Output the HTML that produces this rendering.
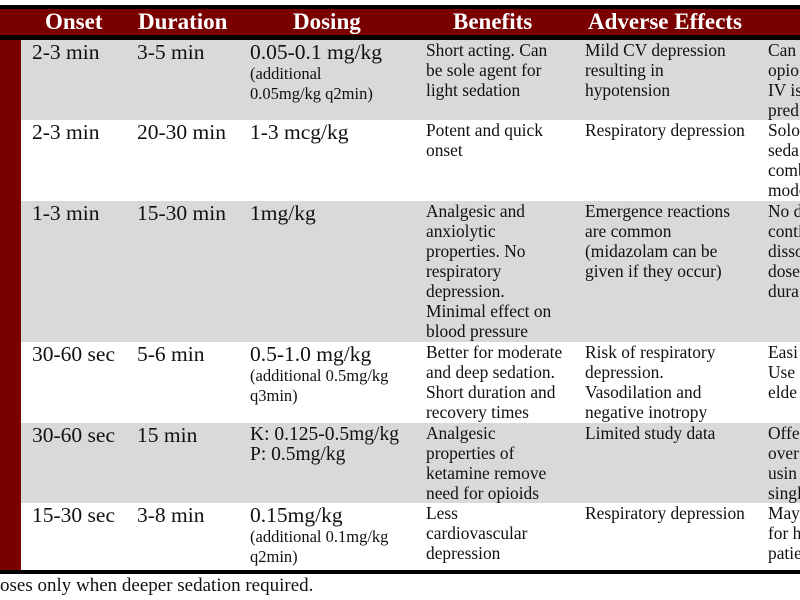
<!DOCTYPE html>
<html><head><style>
body{margin:0;width:800px;height:600px;background:#fff;position:relative;overflow:hidden;font-family:"Liberation Serif",serif;color:#111}
div{position:absolute}
.h{color:#fff;font-weight:bold;font-size:23px;top:9px;line-height:26px}
.t{font-size:21.5px;line-height:20px;white-space:nowrap}
.s{font-size:17.4px;line-height:20px;white-space:nowrap}
.n{font-size:16.5px;line-height:20px;white-space:nowrap}
</style></head><body>
<div style="left:0;top:5px;width:800px;height:4px;background:#000"></div>
<div style="left:0;top:9px;width:800px;height:26px;background:#7a0000"></div>
<div style="left:0;top:35px;width:800px;height:5px;background:#000"></div>
<div style="left:0;top:40px;width:21px;height:531px;background:#7a0000"></div>
<div style="left:21px;top:40px;width:779px;height:80px;background:#d9d9d9"></div>
<div style="left:21px;top:201px;width:779px;height:141px;background:#d9d9d9"></div>
<div style="left:21px;top:423px;width:779px;height:80px;background:#d9d9d9"></div>
<div style="left:0;top:570px;width:800px;height:4px;background:#000"></div>
<div class="h" style="left:45px">Onset</div>
<div class="h" style="left:138px">Duration</div>
<div class="h" style="left:293px">Dosing</div>
<div class="h" style="left:453px">Benefits</div>
<div class="h" style="left:588px">Adverse Effects</div>

<div class="t" style="left:32px;top:42px">2-3 min</div>
<div class="t" style="left:137px;top:42px">3-5 min</div>
<div class="t" style="left:250px;top:42px">0.05-0.1 mg/kg</div>
<div class="n" style="left:250px;top:64px">(additional<br>0.05mg/kg q2min)</div>
<div class="s" style="left:426px;top:40px">Short acting. Can<br>be sole agent for<br>light sedation</div>
<div class="s" style="left:585px;top:40px">Mild CV depression<br>resulting in<br>hypotension</div>
<div class="s" style="left:768px;top:40px">Can<br>opio<br>IV is<br>pred</div>

<div class="t" style="left:32px;top:122px">2-3 min</div>
<div class="t" style="left:137px;top:122px">20-30 min</div>
<div class="t" style="left:250px;top:122px">1-3 mcg/kg</div>
<div class="s" style="left:426px;top:120px">Potent and quick<br>onset</div>
<div class="s" style="left:585px;top:120px">Respiratory depression</div>
<div class="s" style="left:768px;top:120px">Solo<br>seda<br>comb<br>mode</div>

<div class="t" style="left:32px;top:203px">1-3 min</div>
<div class="t" style="left:137px;top:203px">15-30 min</div>
<div class="t" style="left:250px;top:203px">1mg/kg</div>
<div class="s" style="left:426px;top:201px">Analgesic and<br>anxiolytic<br>properties. No<br>respiratory<br>depression.<br>Minimal effect on<br>blood pressure</div>
<div class="s" style="left:585px;top:201px">Emergence reactions<br>are common<br>(midazolam can be<br>given if they occur)</div>
<div class="s" style="left:768px;top:201px">No d<br>conti<br>disso<br>dose<br>dura</div>

<div class="t" style="left:32px;top:344px">30-60 sec</div>
<div class="t" style="left:137px;top:344px">5-6 min</div>
<div class="t" style="left:250px;top:344px">0.5-1.0 mg/kg</div>
<div class="n" style="left:250px;top:366px">(additional 0.5mg/kg<br>q3min)</div>
<div class="s" style="left:426px;top:342px">Better for moderate<br>and deep sedation.<br>Short duration and<br>recovery times</div>
<div class="s" style="left:585px;top:342px">Risk of respiratory<br>depression.<br>Vasodilation and<br>negative inotropy</div>
<div class="s" style="left:768px;top:342px">Easi<br>Use<br>elde</div>

<div class="t" style="left:32px;top:425px">30-60 sec</div>
<div class="t" style="left:137px;top:425px">15 min</div>
<div class="s" style="left:250px;top:425px;font-size:19.5px">K: 0.125-0.5mg/kg<br>P: 0.5mg/kg</div>
<div class="s" style="left:426px;top:423px">Analgesic<br>properties of<br>ketamine remove<br>need for opioids</div>
<div class="s" style="left:585px;top:423px">Limited study data</div>
<div class="s" style="left:768px;top:423px">Offe<br>over<br>usin<br>singl</div>

<div class="t" style="left:32px;top:505px">15-30 sec</div>
<div class="t" style="left:137px;top:505px">3-8 min</div>
<div class="t" style="left:250px;top:505px">0.15mg/kg</div>
<div class="n" style="left:250px;top:527px">(additional 0.1mg/kg<br>q2min)</div>
<div class="s" style="left:426px;top:503px">Less<br>cardiovascular<br>depression</div>
<div class="s" style="left:585px;top:503px">Respiratory depression</div>
<div class="s" style="left:768px;top:503px">May<br>for h<br>patie</div>

<div class="s" style="left:0;top:576px;font-size:19px">oses only when deeper sedation required.</div>
</body></html>
